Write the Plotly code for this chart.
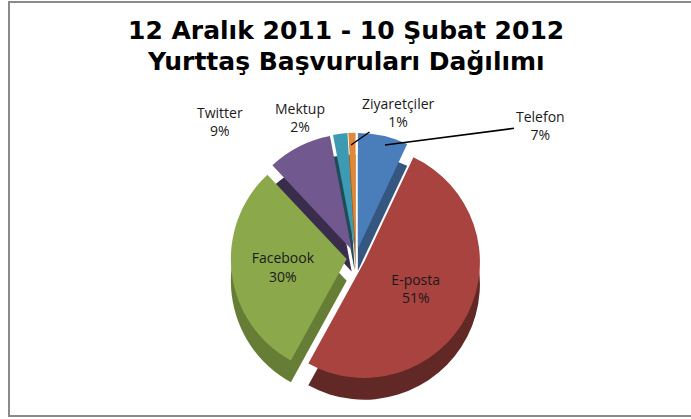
import plotly.graph_objects as go

categories = ["Telefon", "E-posta", "Facebook", "Twitter", "Mektup", "Ziyaretçiler"]
values = [7, 51, 30, 9, 2, 1]
colors = ["#4A7EBB", "#A84340", "#8BA84A", "#71588F", "#3C9AB3", "#E0873A"]
side_colors = ["#34567F", "#622826", "#667D36", "#3A2D4C", "#1F4C58", "#A35D22"]
title_lines = ["12 Aralık 2011 - 10 Şubat 2012", "Yurttaş Başvuruları Dağılımı"]

W, H = 691, 419
inside = {"E-posta", "Facebook"}
text_positions = ["inside" if c in inside else "none" for c in categories]
total = sum(values)
pulls = [0.08] * len(values)

fig = go.Figure()
# darker copy slightly lower to suggest the depth of the 3D pie
fig.add_trace(go.Pie(
    labels=categories,
    values=values,
    sort=False,
    direction="clockwise",
    rotation=0,
    pull=pulls,
    marker=dict(colors=side_colors, line=dict(color="white", width=0)),
    textinfo="none",
    showlegend=False,
    hoverinfo="skip",
    domain=dict(x=[0.2, 0.83], y=[0.034, 0.631]),
))
fig.add_trace(go.Pie(
    labels=categories,
    values=values,
    sort=False,
    direction="clockwise",
    rotation=0,
    pull=pulls,
    marker=dict(colors=colors, line=dict(color="white", width=0)),
    texttemplate="%{label}<br>%{percent:.0%}",
    textposition=text_positions,
    textfont=dict(family="Open Sans", size=14, color="#1a1a1a"),
    insidetextorientation="horizontal",
    showlegend=False,
    hoverinfo="label+percent",
    domain=dict(x=[0.2, 0.83], y=[0.086, 0.683]),
))

label_font = dict(family="Open Sans", size=14, color="#1a1a1a")
title_font = dict(family="DejaVu Sans", size=25, color="black", weight="bold")


def lbl(name):
    v = values[categories.index(name)]
    return f"{name}<br>{round(100 * v / total)}%"


def px(x):
    return x / W


def py(y):
    return 1 - y / H


common = dict(xref="paper", yref="paper", xanchor="center", yanchor="middle")

annotations = [
    dict(text=title_lines[0], x=0.5, y=py(30), showarrow=False, font=title_font, **common),
    dict(text=title_lines[1], x=0.5, y=py(62), showarrow=False, font=title_font, **common),
    dict(text=lbl("Twitter"), x=px(220), y=py(121), showarrow=False, font=label_font, **common),
    dict(text=lbl("Mektup"), x=px(300), y=py(117), showarrow=False, font=label_font, **common),
    dict(text=lbl("Ziyaretçiler"), x=px(351), y=py(145), showarrow=True, arrowhead=0,
         arrowwidth=1.5, arrowcolor="black", ax=47, ay=-33, font=label_font, **common),
    dict(text=lbl("Telefon"), x=px(385), y=py(145), showarrow=True, arrowhead=0,
         arrowwidth=1.5, arrowcolor="black", ax=155, ay=-20, font=label_font, **common),
]

fig.update_layout(
    width=W, height=H,
    margin=dict(l=0, r=0, t=0, b=0),
    paper_bgcolor="white",
    plot_bgcolor="white",
    annotations=annotations,
    shapes=[dict(
        type="rect", xref="paper", yref="paper",
        x0=px(9), x1=1.1, y0=py(416), y1=py(2),
        line=dict(color="#8a8a8a", width=2), fillcolor="rgba(0,0,0,0)",
    )],
)

fig.write_html(
    "out.html",
    config={"displayModeBar": False},
    post_script="document.body.style.margin='0';document.body.style.overflow='hidden';",
)
